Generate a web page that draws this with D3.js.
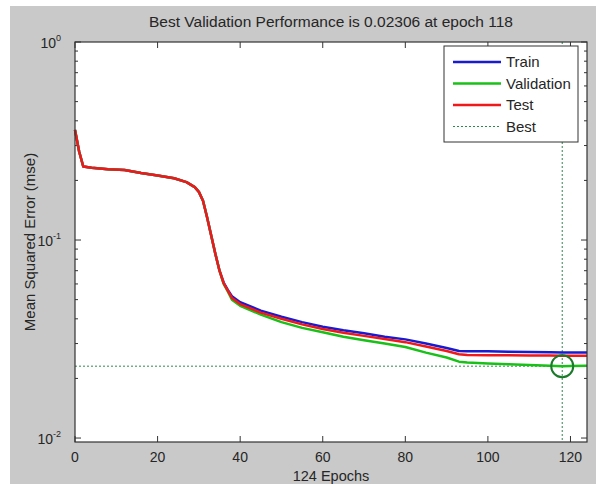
<!DOCTYPE html>
<html>
<head>
<meta charset="utf-8">
<script src="https://cdn.jsdelivr.net/npm/d3@7"></script>
<style>
  body { margin: 0; background: #fff; }
  svg { display: block; font-family: "Liberation Sans", Arial, sans-serif; }
</style>
</head>
<body>
<div id="chart"></div>
<script>
// epochs
const EPOCHS = [0, 1, 2, 4, 8, 12, 16, 20, 24, 27, 29, 30, 31, 32, 33, 34, 35, 36, 37, 38, 40, 45, 50, 55, 60, 65, 70, 75, 80, 85, 90, 93, 95, 100, 105, 110, 115, 118, 120, 124];

const TRAIN = [0.36, 0.28, 0.235, 0.232, 0.228, 0.226, 0.218, 0.212, 0.205, 0.196, 0.185, 0.175, 0.158, 0.13, 0.105, 0.085, 0.07, 0.061, 0.056, 0.052,
  0.0485, 0.044, 0.041, 0.0385, 0.0365, 0.035, 0.0338, 0.0325, 0.0315, 0.030, 0.0285, 0.0275, 0.0274, 0.0274, 0.0273, 0.0272, 0.0271, 0.027, 0.027, 0.027];

const VALIDATION = [0.36, 0.28, 0.235, 0.232, 0.228, 0.226, 0.218, 0.212, 0.205, 0.196, 0.185, 0.175, 0.158, 0.13, 0.105, 0.085, 0.07, 0.06, 0.055, 0.050,
  0.0465, 0.042, 0.0385, 0.036, 0.0342, 0.0325, 0.0312, 0.030, 0.0288, 0.027, 0.0255, 0.0243, 0.0241, 0.0238, 0.0236, 0.0234, 0.0232, 0.02306, 0.0231, 0.0232];

const TEST = [0.36, 0.28, 0.235, 0.232, 0.228, 0.226, 0.218, 0.212, 0.205, 0.196, 0.185, 0.175, 0.158, 0.13, 0.105, 0.085, 0.07, 0.0605, 0.0555, 0.051,
  0.0475, 0.043, 0.040, 0.0375, 0.0355, 0.034, 0.0328, 0.0316, 0.0305, 0.029, 0.0275, 0.0265, 0.0263, 0.0262, 0.0262, 0.0261, 0.0261, 0.026, 0.026, 0.026];

const BEST_EPOCH = 118;
const BEST_VALUE = 0.02306;

const X_TICKS = [0, 20, 40, 60, 80, 100, 120];
const Y_DECADES = [1, 0.1, 0.01];
const Y_EXPONENTS = ["0", "-1", "-2"];

const SERIES = [
  { name: "Train", values: TRAIN, color: "#1a1ad0" },
  { name: "Validation", values: VALIDATION, color: "#18c018" },
  { name: "Test", values: TEST, color: "#f01818" }
];

function drawChart() {
  const W = 596, H = 484;
  const plot = { left: 75, right: 587, top: 42, bottom: 442 };
  const ink = "#262626";

  const svg = d3.select("#chart").append("svg")
    .attr("width", W).attr("height", H);

  // gray figure background
  svg.append("rect").attr("x", 10).attr("y", 6).attr("width", W - 10).attr("height", H - 6)
    .attr("fill", "#c9c9c9");

  const x = d3.scaleLinear().domain([0, 124]).range([plot.left, plot.right]);
  const y = d3.scaleLog().domain([0.00955, 1]).range([plot.bottom, plot.top]);

  // axes area
  svg.append("rect")
    .attr("x", plot.left).attr("y", plot.top)
    .attr("width", plot.right - plot.left).attr("height", plot.bottom - plot.top)
    .attr("fill", "#fff");

  // minor/major y ticks (inside, both sides)
  const yMinor = [];
  [0.01, 0.1].forEach(d => { for (let k = 1; k < 10; k++) yMinor.push(d * k); });
  yMinor.push(1);
  const tickG = svg.append("g").attr("stroke", "#333").attr("stroke-width", 1);
  yMinor.forEach(v => {
    const major = Y_DECADES.some(d => Math.abs(d - v) < 1e-9);
    const len = major ? 6 : 3;
    tickG.append("line").attr("x1", plot.left).attr("x2", plot.left + len)
      .attr("y1", y(v)).attr("y2", y(v));
    tickG.append("line").attr("x1", plot.right).attr("x2", plot.right - len)
      .attr("y1", y(v)).attr("y2", y(v));
  });
  X_TICKS.forEach(t => {
    tickG.append("line").attr("x1", x(t)).attr("x2", x(t))
      .attr("y1", plot.bottom).attr("y2", plot.bottom - 6);
    tickG.append("line").attr("x1", x(t)).attr("x2", x(t))
      .attr("y1", plot.top).attr("y2", plot.top + 6);
  });

  // tick labels
  svg.append("g").selectAll("text").data(X_TICKS).join("text")
    .attr("x", d => x(d)).attr("y", plot.bottom + 20)
    .attr("text-anchor", "middle").attr("font-size", 14).attr("fill", ink)
    .text(d => d);

  const yl = svg.append("g").selectAll("text").data(Y_DECADES).join("text")
    .attr("x", plot.left - 14).attr("y", d => y(d) + 6)
    .attr("text-anchor", "end").attr("font-size", 14).attr("fill", ink);
  yl.append("tspan").text("10");
  yl.append("tspan").attr("dy", -7).attr("font-size", 9).text((d, i) => Y_EXPONENTS[i]);

  // best lines
  const bestColor = "#2a8a4a";
  svg.append("line")
    .attr("x1", x(0)).attr("x2", x(124)).attr("y1", y(BEST_VALUE)).attr("y2", y(BEST_VALUE))
    .attr("stroke", bestColor).attr("stroke-width", 1).attr("stroke-dasharray", "2,2");
  svg.append("line")
    .attr("x1", x(BEST_EPOCH)).attr("x2", x(BEST_EPOCH)).attr("y1", plot.top).attr("y2", plot.bottom)
    .attr("stroke", bestColor).attr("stroke-width", 1).attr("stroke-dasharray", "2,2");

  // curves
  const line = d3.line().x(d => x(d[0])).y(d => y(d[1]));
  SERIES.forEach(s => {
    svg.append("path")
      .datum(EPOCHS.map((e, i) => [e, s.values[i]]))
      .attr("d", line)
      .attr("fill", "none").attr("stroke", s.color).attr("stroke-width", 2.5)
      .attr("stroke-linejoin", "round");
  });

  // best marker
  svg.append("circle")
    .attr("cx", x(BEST_EPOCH)).attr("cy", y(BEST_VALUE)).attr("r", 11)
    .attr("fill", "none").attr("stroke", "#1a7a2a").attr("stroke-width", 2);

  // axes box
  svg.append("rect")
    .attr("x", plot.left).attr("y", plot.top)
    .attr("width", plot.right - plot.left).attr("height", plot.bottom - plot.top)
    .attr("fill", "none").attr("stroke", "#333").attr("stroke-width", 1.2);

  // legend
  const lg = svg.append("g").attr("transform", "translate(444,46)");
  lg.append("rect").attr("width", 134).attr("height", 96)
    .attr("fill", "#fff").attr("stroke", "#333").attr("stroke-width", 1);
  const rows = SERIES.map(s => ({ name: s.name, color: s.color, dash: null }))
    .concat([{ name: "Best", color: bestColor, dash: "2,2" }]);
  rows.forEach((r, i) => {
    const ry = 16 + i * 21.5;
    lg.append("line").attr("x1", 9).attr("x2", 57).attr("y1", ry).attr("y2", ry)
      .attr("stroke", r.color).attr("stroke-width", r.dash ? 1 : 2.5)
      .attr("stroke-dasharray", r.dash);
    lg.append("text").attr("x", 62).attr("y", ry + 5).attr("font-size", 15).attr("fill", ink)
      .text(r.name);
  });

  // titles
  svg.append("text").attr("x", (plot.left + plot.right) / 2).attr("y", 27)
    .attr("text-anchor", "middle").attr("font-size", 15.5).attr("fill", ink)
    .text("Best Validation Performance is 0.02306 at epoch 118");
  svg.append("text").attr("x", (plot.left + plot.right) / 2).attr("y", 481)
    .attr("text-anchor", "middle").attr("font-size", 14.5).attr("fill", ink)
    .text("124 Epochs");
  svg.append("text")
    .attr("transform", `translate(35,${(plot.top + plot.bottom) / 2}) rotate(-90)`)
    .attr("text-anchor", "middle").attr("font-size", 15).attr("fill", ink)
    .text("Mean Squared Error  (mse)");
}

drawChart();
</script>
</body>
</html>
